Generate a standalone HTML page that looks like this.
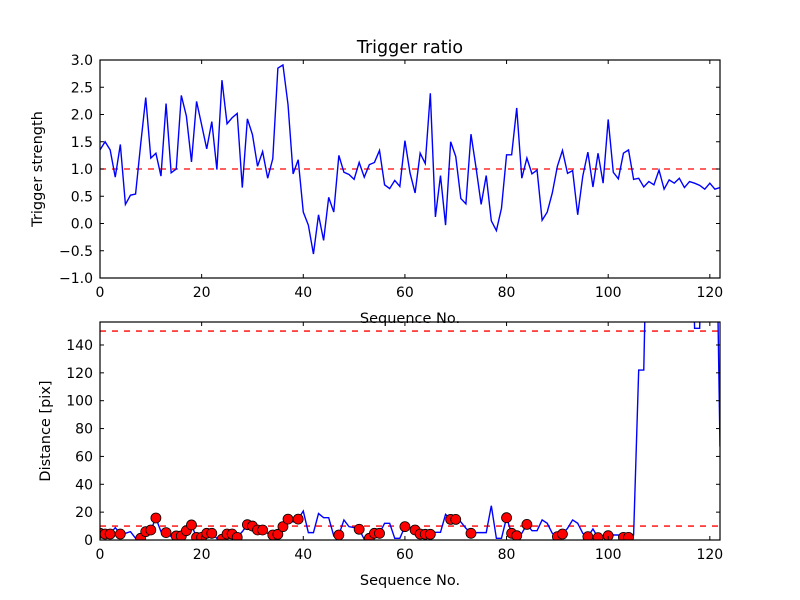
<!DOCTYPE html>
<html><head><meta charset="utf-8"><style>
body{margin:0;background:#fff}
svg{display:block;font-family:"DejaVu Sans","Liberation Sans",sans-serif}
</style></head><body>
<svg id="chart" width="800" height="600" viewBox="0 0 800 600" xmlns="http://www.w3.org/2000/svg">
<rect width="800" height="600" fill="#fff"/>
<defs>
<clipPath id="c1"><rect x="100" y="60" width="620" height="218"/></clipPath>
<clipPath id="c2"><rect x="100" y="322" width="620" height="218"/></clipPath>
</defs>
<g id="top"></g>
<g id="bot"></g>
</svg>
<script>
const strength=[1.35,1.50,1.35,0.85,1.45,0.35,0.52,0.54,1.45,2.31,1.20,1.29,0.87,2.20,0.93,1.00,2.35,1.97,1.13,2.24,1.81,1.37,1.87,0.99,2.63,1.83,1.94,2.02,0.66,1.92,1.63,1.05,1.32,0.83,1.19,2.85,2.91,2.18,0.91,1.17,0.21,-0.03,-0.56,0.16,-0.31,0.48,0.21,1.25,0.94,0.90,0.81,1.12,0.85,1.08,1.12,1.34,0.71,0.64,0.79,0.68,1.52,0.93,0.56,1.29,1.10,2.39,0.12,0.88,-0.03,1.50,1.23,0.46,0.36,1.64,1.02,0.35,0.88,0.05,-0.13,0.28,1.26,1.26,2.12,0.83,1.20,0.91,0.98,0.06,0.21,0.56,1.05,1.34,0.92,0.97,0.16,0.87,1.31,0.67,1.29,0.74,1.91,0.94,0.82,1.29,1.35,0.81,0.83,0.67,0.77,0.71,0.98,0.63,0.80,0.74,0.83,0.66,0.77,0.74,0.70,0.63,0.74,0.63,0.66];
const distance=[4.8,4.3,4.3,8.9,4.3,4.8,6,1.2,1.2,6,7.2,15.8,6,5.3,2.4,2.9,2.9,6.7,10.8,1.9,1.9,4.8,4.8,1.2,0.5,4.3,4.3,1.9,6,11,10,7.2,7.2,4.8,3.6,4.1,9.6,15,13,15,20.8,5.3,5.3,19,16,16,2.9,3.6,14.4,9.6,8.9,7.7,0.5,1.2,4.8,4.8,12,12,1.2,1.2,9.6,8.9,7.2,4.3,4.1,4.1,5.5,5.5,18.4,14.8,14.8,13,8.4,4.8,5.3,5.3,5.3,24.6,1.2,1.2,16,4.8,3.1,4.8,11.2,6.7,6.7,14.4,12,4.8,2.4,4.3,8.4,14.4,12,4.8,2.4,7.9,1.7,1.2,3.1,3.6,3.6,1.9,1.9,3.6,122,122,300,300,300,300,300,300,300,300,300,152,152,300,300,300,67];
const markerIdx=[0,1,2,4,8,9,10,11,13,15,16,17,18,19,20,21,22,24,25,26,27,29,30,31,32,34,35,36,37,39,47,51,53,54,55,60,62,63,64,65,69,70,73,80,81,82,84,90,91,96,98,100,103,104];
const xTicks=[0,20,40,60,80,100,120];
const yTicksTop=[-1.0,-0.5,0.0,0.5,1.0,1.5,2.0,2.5,3.0];
const yTicksBot=[0,20,40,60,80,100,120,140];
const thresholdTop=[1.0];
const thresholdBot=[10,150];

const NS="http://www.w3.org/2000/svg";
function mk(p,t,a,txt){const e=document.createElementNS(NS,t);for(const k in a)e.setAttribute(k,a[k]);if(txt!==undefined)e.textContent=txt;p.appendChild(e);return e;}
const X0=100,X1=720,xMax=122;
const xs=v=>X0+v/xMax*(X1-X0);
function fmt(v,d){return (v<0?"\u2212":"")+Math.abs(v).toFixed(d);}

function panel(g,T,B,ymin,ymax,yt,dec,clip,ylab,titleTxt,series,thr,marks){
 const ys=v=>B-(v-ymin)/(ymax-ymin)*(B-T);
 thr.forEach(t=>{const l=mk(g,'line',{x1:X0,x2:X1,y1:ys(t),y2:ys(t),stroke:'#f00','stroke-width':1.3,'stroke-dasharray':'6,6','clip-path':clip});
  
  });
 const pts=series.map((v,i)=>xs(i).toFixed(2)+','+ys(v).toFixed(2)).join(' ');
 const pl=mk(g,'polyline',{points:pts,fill:'none',stroke:'#00f','stroke-width':1.4,'clip-path':clip});
 
 
 if(marks){marks.forEach(i=>{const c=mk(g,'circle',{cx:xs(i),cy:ys(series[i]),r:5,fill:'#f00',stroke:'#000','stroke-width':0.8,'clip-path':clip});
  
  });}
 const fr=mk(g,'rect',{x:X0,y:T,width:X1-X0,height:B-T,fill:'none',stroke:'#000','stroke-width':1.2});
 
 
 xTicks.forEach(t=>{const x=xs(t);
  mk(g,'line',{x1:x,x2:x,y1:B,y2:B-4,stroke:'#000'});mk(g,'line',{x1:x,x2:x,y1:T,y2:T+4,stroke:'#000'});
  const tx=mk(g,'text',{x:x,y:B+19,'text-anchor':'middle','font-size':14},String(t));
  
  });
 yt.forEach(t=>{const y=ys(t);
  mk(g,'line',{x1:X0,x2:X0+4,y1:y,y2:y,stroke:'#000'});mk(g,'line',{x1:X1,x2:X1-4,y1:y,y2:y,stroke:'#000'});
  const tx=mk(g,'text',{x:X0-7,y:y+5,'text-anchor':'end','font-size':14},fmt(t,dec));
  
  });
 const xl=mk(g,'text',{x:(X0+X1)/2,y:B+45,'text-anchor':'middle','font-size':14.5},'Sequence No.');
 
 
 const cy=(T+B)/2;const lx=ylab[1];
 const yl=mk(g,'text',{x:lx,y:cy,'text-anchor':'middle','font-size':14.5,transform:'rotate(-90 '+lx+' '+cy+')'},ylab[0]);
 
 
 if(titleTxt){const tt=mk(g,'text',{x:(X0+X1)/2,y:T-7,'text-anchor':'middle','font-size':17.5},titleTxt);
  
  }
}
const gt=document.getElementById('top');


const gb=document.getElementById('bot');


panel(gt,60,278,-1,3,yTicksTop,1,'url(#c1)',['Trigger strength',42],'Trigger ratio',strength,thresholdTop,null);
panel(gb,322,540,0,156.5,yTicksBot,0,'url(#c2)',['Distance [pix]',50],null,distance,thresholdBot,markerIdx);
</script>
</body></html>
